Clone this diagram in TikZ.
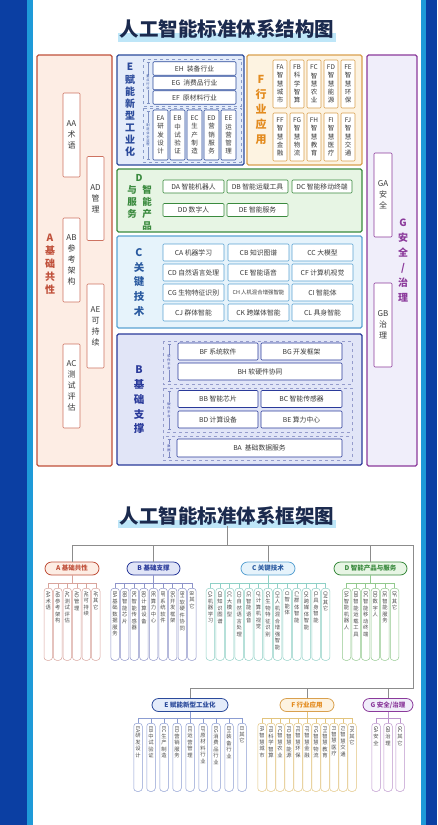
\documentclass[tikz,border=0pt]{standalone}
\usepackage{fontspec}
\setmainfont{Noto Sans CJK SC}
\usepackage{tikz}
\usetikzlibrary{arrows.meta, positioning, calc}

\definecolor{frameblue}{HTML}{0B3FA3}
\definecolor{stripblue}{HTML}{1E9AD8}
\definecolor{titlenavy}{HTML}{1B2A4E}
\definecolor{titlehl}{HTML}{BEE6F8}
\definecolor{txtgray}{HTML}{3A3A3A}
\definecolor{Ared}{HTML}{C0503A}
\definecolor{Afill}{HTML}{FDEDE4}
\definecolor{Eblue}{HTML}{2B4A9B}
\definecolor{Efill}{HTML}{E4ECFA}
\definecolor{Fgold}{HTML}{D9A04E}
\definecolor{Ffill}{HTML}{FDF3E1}
\definecolor{Forange}{HTML}{E38B1E}
\definecolor{Gpurple}{HTML}{8B3A9B}
\definecolor{Gfill}{HTML}{F0EEFA}
\definecolor{Dgreen}{HTML}{3A8A3E}
\definecolor{Dfill}{HTML}{E7F5E4}
\definecolor{Cblue}{HTML}{5BA3D3}
\definecolor{Cfill}{HTML}{E6F3FB}
\definecolor{Ctext}{HTML}{2A5AA0}
\definecolor{Bnavy}{HTML}{2A3A9A}
\definecolor{Bfill}{HTML}{E1E5F7}
\definecolor{lfA}{HTML}{D8A49C}
\definecolor{lfB}{HTML}{8E94C9}
\definecolor{lfC}{HTML}{8FD0C6}
\definecolor{lfD}{HTML}{92C98E}
\definecolor{lfE}{HTML}{8C9DD2}
\definecolor{lfF}{HTML}{E2C47E}
\definecolor{lfG}{HTML}{BC94CC}

% stack the characters of a word one under the other
\newcommand\vchars[1]{\expandafter\vcharsi#1\relax}
\def\vcharsi#1{\ifx#1\relax\else#1\par\expandafter\vcharsi\fi}

\begin{document}
\begin{tikzpicture}[
  x=1pt, y=-1pt,
  >=Stealth,
  every node/.style={inner sep=0pt, text=txtgray},
  title/.style={font=\fontsize{19.5}{22}\selectfont\bfseries, text=titlenavy},
  grp/.style={line width=1.1pt, rounded corners=1.5pt},
  glabel/.style={align=center, font=\fontsize{10.5}{14.8}\selectfont\bfseries},
  cell/.style={draw, fill=white, line width=0.6pt, rounded corners=1pt, font=\fontsize{6.8}{8}\selectfont},
  vcell/.style={cell, align=center, font=\fontsize{6.5}{8.2}\selectfont},
  acell/.style={cell, draw=Ared!80, minimum width=17, minimum height=84, align=center, font=\fontsize{8}{11}\selectfont},
  dashbox/.style={draw=#1, dashed, line width=0.5pt},
  sidetag/.style={align=center, font=\fontsize{3.2}{3.9}\selectfont, inner sep=0.4pt},
  tagline/.style={draw=#1, line width=0.4pt, {Bar[width=3pt]}-{Bar[width=3pt]}},
  pill/.style={draw=#1, text=#1, line width=0.8pt, rounded corners=6.5pt, minimum height=13, font=\fontsize{6.5}{8}\selectfont\bfseries},
  leaf/.style={draw=#1, fill=white, line width=0.5pt, rounded corners=3pt, anchor=north, minimum width=8.5, minimum height=72},
  leaftxt/.style={anchor=north, text width=8pt, align=center, font=\fontsize{5.3}{6.5}\selectfont, text=black!70},
  twig/.style={draw=#1, line width=0.5pt},
  trunk/.style={draw=black!45, line width=0.8pt},
]
\useasboundingbox (0,0) rectangle (437,825);

% --- Frame ---
\fill[frameblue] (0,0) rectangle (437,825);
\fill[stripblue] (27,0) rectangle (426,825);
\fill[white] (33,0) rectangle (421,825);

% --- Title (structure) ---
\fill[titlehl] (118,33) rectangle (336,42);
\node[title] (t1) at (227,29) {人工智能标准体系结构图};

% --- A ---
\draw[grp, draw=Ared, fill=Afill] (37,55) rectangle (112,466);
\node[glabel, text=Ared, font=\fontsize{10}{13}\selectfont\bfseries] (labA) at (50,264) {A\\基\\础\\共\\性};
\node[acell] (AA) at (71.5,135) {AA\\术\\语};
\node[acell] (AB) at (71.5,260) {AB\\参\\考\\架\\构};
\node[acell] (AC) at (71.5,386) {AC\\测\\试\\评\\估};
\node[acell] (AD) at (95.5,198.5) {AD\\管\\理};
\node[acell] (AE) at (95.5,326) {AE\\可\\持\\续};

% --- E ---
\draw[grp, draw=Eblue, fill=Efill] (117,55) rectangle (244,165);
\node[glabel, text=Eblue, font=\fontsize{10}{12.1}\selectfont\bfseries] (labE) at (130,110) {E\\赋\\能\\新\\型\\工\\业\\化};
\draw[dashbox=Eblue!55] (143,59) rectangle (241,106);
\draw[dashbox=Eblue!55] (143,108) rectangle (241,162);
\draw[tagline=Eblue!60] (148,62) -- (148,103);
\node[sidetag, fill=Efill, text=Eblue] (tagE1) at (148,82.5) {重\\点\\行\\业};
\draw[tagline=Eblue!60] (148,111) -- (148,159);
\node[sidetag, fill=Efill, text=Eblue] (tagE2) at (148,135) {制\\造\\业\\全\\流\\程};
\node[cell, draw=Eblue, minimum width=83, minimum height=13.5] (EH) at (194.5,68.5) {EH\ \ 装备行业};
\node[cell, draw=Eblue, minimum width=83, minimum height=13.5] (EG) at (194.5,83) {EG\ \ 消费品行业};
\node[cell, draw=Eblue, minimum width=83, minimum height=13.5] (EF) at (194.5,97.5) {EF\ \ 原材料行业};
\node[vcell, draw=Eblue, minimum width=15, minimum height=50] (EA) at (160.5,135) {EA\\研\\发\\设\\计};
\node[vcell, draw=Eblue, minimum width=15, minimum height=50] (EB) at (177.5,135) {EB\\中\\试\\验\\证};
\node[vcell, draw=Eblue, minimum width=15, minimum height=50] (EC) at (194.5,135) {EC\\生\\产\\制\\造};
\node[vcell, draw=Eblue, minimum width=15, minimum height=50] (ED) at (211.5,135) {ED\\营\\销\\服\\务};
\node[vcell, draw=Eblue, minimum width=15, minimum height=50] (EE) at (228.5,135) {EE\\运\\营\\管\\理};

% --- F ---
\draw[grp, draw=Fgold, fill=Ffill] (247,55) rectangle (362,165);
\node[glabel, text=Forange, font=\fontsize{11}{14.8}\selectfont\bfseries] (labF) at (261,110) {F\\行\\业\\应\\用};
\node[vcell, draw=Fgold, minimum width=14, minimum height=48] (FA) at (280,84) {FA\\智\\慧\\城\\市};
\node[vcell, draw=Fgold, minimum width=14, minimum height=48] (FB) at (297,84) {FB\\科\\学\\智\\算};
\node[vcell, draw=Fgold, minimum width=14, minimum height=48] (FC) at (314,84) {FC\\智\\慧\\农\\业};
\node[vcell, draw=Fgold, minimum width=14, minimum height=48] (FD) at (331,84) {FD\\智\\慧\\能\\源};
\node[vcell, draw=Fgold, minimum width=14, minimum height=48] (FE) at (348,84) {FE\\智\\慧\\环\\保};
\node[vcell, draw=Fgold, minimum width=14, minimum height=48] (FF) at (280,137) {FF\\智\\慧\\金\\融};
\node[vcell, draw=Fgold, minimum width=14, minimum height=48] (FG) at (297,137) {FG\\智\\慧\\物\\流};
\node[vcell, draw=Fgold, minimum width=14, minimum height=48] (FH) at (314,137) {FH\\智\\慧\\教\\育};
\node[vcell, draw=Fgold, minimum width=14, minimum height=48] (FI) at (331,137) {FI\\智\\慧\\医\\疗};
\node[vcell, draw=Fgold, minimum width=14, minimum height=48] (FJ) at (348,137) {FJ\\智\\慧\\交\\通};

% --- G ---
\draw[grp, draw=Gpurple, fill=Gfill] (367,55) rectangle (417,466);
\node[glabel, text=Gpurple, font=\fontsize{10}{15}\selectfont\bfseries] (labG) at (403,261) {G\\安\\全\\/\\治\\理};
\node[cell, draw=Gpurple, minimum width=18, minimum height=84, align=center, font=\fontsize{8}{11}\selectfont] (GA) at (383,195) {GA\\安\\全};
\node[cell, draw=Gpurple, minimum width=18, minimum height=84, align=center, font=\fontsize{8}{11}\selectfont] (GB) at (383,325) {GB\\治\\理};

% --- D ---
\draw[grp, draw=Dgreen, fill=Dfill] (117,169) rectangle (362,232);
\node[glabel, text=Dgreen, font=\fontsize{9.5}{12}\selectfont\bfseries] (labD) at (139,178) {D};
\node[glabel, text=Dgreen, font=\fontsize{9.5}{12}\selectfont\bfseries] (labD1) at (147,208) {智\\能\\产\\品};
\node[glabel, text=Dgreen, font=\fontsize{9.5}{12}\selectfont\bfseries] (labD2) at (132,202) {与\\服\\务};
\node[cell, draw=Dgreen, minimum width=61, minimum height=13] (DA) at (193.5,186.5) {DA 智能机器人};
\node[cell, draw=Dgreen, minimum width=61, minimum height=13] (DB) at (257.5,186.5) {DB 智能运载工具};
\node[cell, draw=Dgreen, minimum width=60, minimum height=13] (DC) at (322,186.5) {DC 智能移动终端};
\node[cell, draw=Dgreen, minimum width=61, minimum height=13] (DD) at (193.5,210) {DD 数字人};
\node[cell, draw=Dgreen, minimum width=61, minimum height=13] (DE) at (257.5,210) {DE 智能服务};

% --- C ---
\draw[grp, draw=Cblue, fill=Cfill] (117,236) rectangle (362,328);
\node[glabel, text=Ctext] (labC) at (139,282.5) {C\\关\\键\\技\\术};
\node[cell, draw=Cblue, minimum width=61, minimum height=17] (CA) at (193.5,252.5) {CA 机器学习};
\node[cell, draw=Cblue, minimum width=61, minimum height=17] (CB) at (258.5,252.5) {CB 知识图谱};
\node[cell, draw=Cblue, minimum width=61, minimum height=17] (CC) at (322.5,252.5) {CC 大模型};
\node[cell, draw=Cblue, minimum width=61, minimum height=17] (CD) at (193.5,272.5) {CD 自然语言处理};
\node[cell, draw=Cblue, minimum width=61, minimum height=17] (CE) at (258.5,272.5) {CE 智能语音};
\node[cell, draw=Cblue, minimum width=61, minimum height=17] (CF) at (322.5,272.5) {CF 计算机视觉};
\node[cell, draw=Cblue, minimum width=61, minimum height=17] (CG) at (193.5,292.5) {CG 生物特征识别};
\node[cell, draw=Cblue, minimum width=61, minimum height=17, font=\fontsize{5.4}{6}\selectfont] (CH) at (258.5,292.5) {CH 人机混合增强智能};
\node[cell, draw=Cblue, minimum width=61, minimum height=17] (CI) at (322.5,292.5) {CI 智能体};
\node[cell, draw=Cblue, minimum width=61, minimum height=17] (CJ) at (193.5,312.5) {CJ 群体智能};
\node[cell, draw=Cblue, minimum width=61, minimum height=17] (CK) at (258.5,312.5) {CK 跨媒体智能};
\node[cell, draw=Cblue, minimum width=61, minimum height=17] (CL) at (322.5,312.5) {CL 具身智能};

% --- B ---
\draw[grp, draw=Bnavy, fill=Bfill] (117,334) rectangle (362,465);
\node[glabel, text=Bnavy] (labB) at (139,400) {B\\基\\础\\支\\撑};
\draw[dashbox=Bnavy!50] (163,341) rectangle (352,384);
\draw[dashbox=Bnavy!50] (163,388) rectangle (352,432);
\draw[dashbox=Bnavy!50] (163,436) rectangle (352,460);
\draw[tagline=Bnavy!60] (169,344) -- (169,381);
\node[sidetag, fill=Bfill, text=Bnavy] (tagB1) at (169,362.5) {软\\件\\平\\台};
\draw[tagline=Bnavy!60] (169,391) -- (169,429);
\node[sidetag, fill=Bfill, text=Bnavy] (tagB2) at (169,410) {硬\\件\\平\\台};
\draw[tagline=Bnavy!60] (169,439) -- (169,457);
\node[sidetag, fill=Bfill, text=Bnavy] (tagB3) at (169,448) {数\\据};
\node[cell, draw=Bnavy, minimum width=80, minimum height=17] (BF) at (218,351.5) {BF 系统软件};
\node[cell, draw=Bnavy, minimum width=81, minimum height=17] (BG) at (301.5,351.5) {BG 开发框架};
\node[cell, draw=Bnavy, minimum width=164, minimum height=17] (BH) at (260,371.5) {BH 软硬件协同};
\node[cell, draw=Bnavy, minimum width=80, minimum height=17] (BB) at (218,399) {BB 智能芯片};
\node[cell, draw=Bnavy, minimum width=81, minimum height=17] (BC) at (301.5,399) {BC 智能传感器};
\node[cell, draw=Bnavy, minimum width=80, minimum height=17] (BD) at (218,419.5) {BD 计算设备};
\node[cell, draw=Bnavy, minimum width=81, minimum height=17] (BE) at (301.5,419.5) {BE 算力中心};
\node[cell, draw=Bnavy, minimum width=165, minimum height=18] (BA) at (259.5,448) {BA\ \ 基础数据服务};

% --- Title (framework) ---
\fill[titlehl] (118,520) rectangle (336,528);
\node[title] (t2) at (227,516) {人工智能标准体系框架图};

% --- Top level ---
\node[pill=Ared, fill=Afill, minimum width=54] (pA) at (72,568.5) {A 基础共性};
\node[pill=Bnavy, fill=Bfill, minimum width=53] (pB) at (153.5,568.5) {B 基础支撑};
\node[pill=Ctext, draw=Cblue, fill=Cfill, minimum width=54] (pC) at (268,568.5) {C 关键技术};
\node[pill=Dgreen, fill=Dfill, minimum width=73] (pD) at (370.5,568.5) {D 智能产品与服务};
\node[pill=Eblue, fill=Efill, minimum width=76] (pE) at (190,705) {E 赋能新型工业化};
\node[pill=Forange, draw=Fgold, fill=Ffill, minimum width=54] (pF) at (307,705) {F 行业应用};
\node[pill=Gpurple, fill=Gfill, minimum width=50] (pG) at (388,705) {G 安全/治理};

\coordinate (hub) at (227,545);
\coordinate (endR) at (413,545);
\coordinate (hub2) at (413,688);
\draw[trunk] (t2.south) -- (hub);
\draw[trunk] (pA.north) |- (endR) -- (hub2) -| (pE.north);
\foreach \p in {pB,pC,pD} \draw[trunk] (\p.north) -- (\p.north |- hub);
\foreach \p in {pF,pG} \draw[trunk] (\p.north) -- (\p.north |- hub2);

% --- Leaves, first row ---
\coordinate (brA) at (72,583);
\foreach \c/\t [count=\i] in {AA/术语, AB/参考架构, AC/测试评估, AD/管理, AE/可持续, AF/其它} {
  \node[leaf=lfA] (lA\i) at ({72+(\i-3.5)*9.5},588) {};
  \node[leaftxt] (tA\i) at ([yshift=-3pt]lA\i.north) {\rotatebox{-90}{\c}\par\vchars{\t}};
  \draw[twig=lfA] (lA\i.north) -- (lA\i.north |- brA);
}
\draw[twig=lfA] (pA.south) -- (brA);
\draw[twig=lfA] (lA1.north |- brA) -- (lA6.north |- brA);

\coordinate (brB) at (153.5,583);
\foreach \c/\t [count=\i] in {BA/基础数据服务, BB/智能芯片, BC/智能传感器, BD/计算设备, BE/算力中心, BF/系统软件, BG/开发框架, BH/软硬件协同, BI/其它} {
  \node[leaf=lfB] (lB\i) at ({153.5+(\i-5)*9.6},588) {};
  \node[leaftxt] (tB\i) at ([yshift=-3pt]lB\i.north) {\rotatebox{-90}{\c}\par\vchars{\t}};
  \draw[twig=lfB] (lB\i.north) -- (lB\i.north |- brB);
}
\draw[twig=lfB] (pB.south) -- (brB);
\draw[twig=lfB] (lB1.north |- brB) -- (lB9.north |- brB);

\coordinate (brC) at (268,583);
\foreach \c/\t [count=\i] in {CA/机器学习, CB/知识图谱, CC/大模型, CD/自然语言处理, CE/智能语音, CF/计算机视觉, CG/生物特征识别, CH/人机混合增强智能, CI/智能体, CJ/群体智能, CK/跨媒体智能, CL/具身智能, CM/其它} {
  \node[leaf=lfC] (lC\i) at ({268+(\i-7)*9.6},588) {};
  \node[leaftxt] (tC\i) at ([yshift=-3pt]lC\i.north) {\rotatebox{-90}{\c}\par\vchars{\t}};
  \draw[twig=lfC] (lC\i.north) -- (lC\i.north |- brC);
}
\draw[twig=lfC] (pC.south) -- (brC);
\draw[twig=lfC] (lC1.north |- brC) -- (lC13.north |- brC);

\coordinate (brD) at (370.5,583);
\foreach \c/\t [count=\i] in {DA/智能机器人, DB/智能运载工具, DC/智能移动终端, DD/数字人, DE/智能服务, DF/其它} {
  \node[leaf=lfD] (lD\i) at ({370.5+(\i-3.5)*9.6},588) {};
  \node[leaftxt] (tD\i) at ([yshift=-3pt]lD\i.north) {\rotatebox{-90}{\c}\par\vchars{\t}};
  \draw[twig=lfD] (lD\i.north) -- (lD\i.north |- brD);
}
\draw[twig=lfD] (pD.south) -- (brD);
\draw[twig=lfD] (lD1.north |- brD) -- (lD6.north |- brD);

% --- Leaves, second row ---
\coordinate (brE) at (190,718);
\foreach \c/\t [count=\i] in {EA/研发设计, EB/中试验证, EC/生产制造, ED/营销服务, EE/运营管理, EF/原材料行业, EG/消费品行业, EH/装备行业, EI/其它} {
  \node[leaf=lfE, minimum height=68] (lE\i) at ({190+(\i-5)*13},723) {};
  \node[leaftxt] (tE\i) at ([yshift=-3pt]lE\i.north) {\rotatebox{-90}{\c}\par\vchars{\t}};
  \draw[twig=lfE] (lE\i.north) -- (lE\i.north |- brE);
}
\draw[twig=lfE] (pE.south) -- (brE);
\draw[twig=lfE] (lE1.north |- brE) -- (lE9.north |- brE);

\coordinate (brF) at (307,718);
\foreach \c/\t [count=\i] in {FA/智慧城市, FB/科学智算, FC/智慧农业, FD/智慧能源, FE/智慧环保, FF/智慧金融, FG/智慧物流, FH/智慧教育, FI/智慧医疗, FJ/智慧交通, FK/其它} {
  \node[leaf=lfF, minimum height=68] (lF\i) at ({307+(\i-6)*9},723) {};
  \node[leaftxt] (tF\i) at ([yshift=-3pt]lF\i.north) {\rotatebox{-90}{\c}\par\vchars{\t}};
  \draw[twig=lfF] (lF\i.north) -- (lF\i.north |- brF);
}
\draw[twig=lfF] (pF.south) -- (brF);
\draw[twig=lfF] (lF1.north |- brF) -- (lF11.north |- brF);

\coordinate (brG) at (388,718);
\foreach \c/\t [count=\i] in {GA/安全, GB/治理, GC/其它} {
  \node[leaf=lfG, minimum height=68] (lG\i) at ({388+(\i-2)*12},723) {};
  \node[leaftxt] (tG\i) at ([yshift=-3pt]lG\i.north) {\rotatebox{-90}{\c}\par\vchars{\t}};
  \draw[twig=lfG] (lG\i.north) -- (lG\i.north |- brG);
}
\draw[twig=lfG] (pG.south) -- (brG);
\draw[twig=lfG] (lG1.north |- brG) -- (lG3.north |- brG);

\end{tikzpicture}
\end{document}
